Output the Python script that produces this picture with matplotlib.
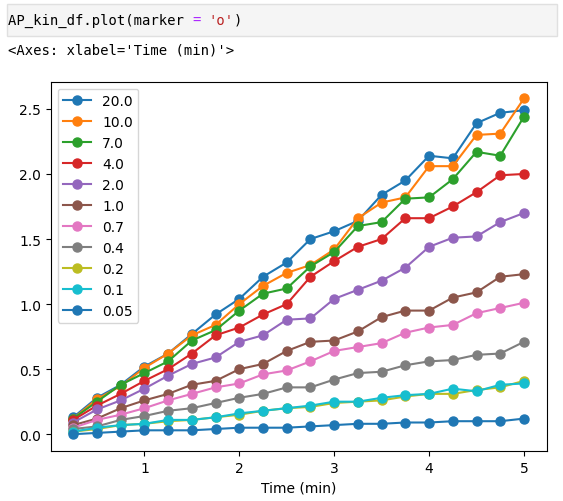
import numpy as np
import pandas as pd
import matplotlib
matplotlib.use("Agg")
import matplotlib.pyplot as plt
from matplotlib.patches import Rectangle

# time points (min)
time_min = [0.25, 0.5, 0.75, 1.0, 1.25, 1.5, 1.75, 2.0, 2.25, 2.5,
            2.75, 3.0, 3.25, 3.5, 3.75, 4.0, 4.25, 4.5, 4.75, 5.0]

# one series per concentration
c_20 = [0.13, 0.28, 0.38, 0.52, 0.62, 0.77, 0.92, 1.04, 1.21, 1.32,
        1.50, 1.56, 1.64, 1.84, 1.95, 2.14, 2.12, 2.39, 2.47, 2.49]
c_10 = [0.12, 0.27, 0.37, 0.51, 0.62, 0.76, 0.84, 1.00, 1.14, 1.24,
        1.30, 1.42, 1.66, 1.78, 1.82, 2.06, 2.06, 2.30, 2.31, 2.58]
c_7 = [0.12, 0.25, 0.38, 0.47, 0.56, 0.72, 0.80, 0.95, 1.08, 1.12,
       1.29, 1.40, 1.60, 1.63, 1.81, 1.82, 1.96, 2.17, 2.14, 2.44]
c_4 = [0.11, 0.22, 0.31, 0.41, 0.50, 0.62, 0.76, 0.82, 0.92, 1.00,
       1.21, 1.33, 1.44, 1.50, 1.66, 1.66, 1.75, 1.86, 1.99, 2.00]
c_2 = [0.09, 0.19, 0.26, 0.35, 0.45, 0.54, 0.59, 0.71, 0.76, 0.88,
       0.89, 1.04, 1.11, 1.18, 1.28, 1.44, 1.51, 1.52, 1.63, 1.70]
c_1 = [0.07, 0.12, 0.20, 0.26, 0.31, 0.38, 0.41, 0.50, 0.54, 0.64,
       0.71, 0.72, 0.79, 0.90, 0.95, 0.95, 1.05, 1.09, 1.21, 1.23]
c_07 = [0.05, 0.11, 0.15, 0.20, 0.26, 0.31, 0.36, 0.39, 0.46, 0.49,
        0.56, 0.64, 0.67, 0.70, 0.78, 0.82, 0.84, 0.93, 0.97, 1.01]
c_04 = [0.04, 0.06, 0.11, 0.14, 0.18, 0.20, 0.24, 0.28, 0.31, 0.36,
        0.36, 0.42, 0.47, 0.48, 0.53, 0.56, 0.57, 0.61, 0.62, 0.71]
c_02 = [0.02, 0.04, 0.07, 0.08, 0.10, 0.11, 0.13, 0.15, 0.18, 0.20,
        0.21, 0.24, 0.25, 0.26, 0.29, 0.31, 0.31, 0.34, 0.36, 0.41]
c_01 = [0.02, 0.05, 0.07, 0.08, 0.11, 0.11, 0.13, 0.16, 0.18, 0.20,
        0.22, 0.25, 0.25, 0.28, 0.30, 0.31, 0.35, 0.33, 0.38, 0.39]
c_005 = [0.00, 0.01, 0.02, 0.03, 0.03, 0.03, 0.04, 0.05, 0.05, 0.05,
         0.06, 0.07, 0.08, 0.08, 0.09, 0.09, 0.10, 0.10, 0.10, 0.12]

concs = [20.0, 10.0, 7.0, 4.0, 2.0, 1.0, 0.7, 0.4, 0.2, 0.1, 0.05]
series = [c_20, c_10, c_7, c_4, c_2, c_1, c_07, c_04, c_02, c_01, c_005]

AP_kin_df = pd.DataFrame(dict(zip(concs, series)),
                         index=pd.Index(time_min, name="Time (min)"))

W, H = 563, 502
fig = plt.figure(figsize=(W / 100, H / 100), dpi=100)

# notebook cell look: input box + output repr
fig.patches.append(Rectangle((7 / W, 1 - 37 / H), 550 / W, 32 / H,
                             transform=fig.transFigure, facecolor="#f5f5f5",
                             edgecolor="#e0e0e0", linewidth=1))
fs = 10
cw = 0.602 * fs * 100 / 72  # monospace advance, px
x0, yc = 8, 21
pieces = [("AP_kin_df.plot(marker ", 0, "black"), ("=", 22, "#AA22FF"),
          ("'o'", 24, "#BA2121"), (")", 27, "black")]
for txt, n, col in pieces:
    fig.text((x0 + n * cw) / W, 1 - yc / H, txt, family="DejaVu Sans Mono",
             fontsize=fs, color=col, va="center", ha="left")
fig.text(x0 / W, 1 - 51 / H, "<Axes: xlabel='Time (min)'>",
         family="DejaVu Sans Mono", fontsize=fs, va="center", ha="left")

ax = fig.add_axes([50.7 / W, 1 - 452 / H, (546.5 - 50.7) / W, (452 - 82.7) / H])
AP_kin_df.plot(marker='o', ax=ax, markersize=6.5)
ax.legend(loc="upper left")

fig.savefig("out.png", dpi=100)
